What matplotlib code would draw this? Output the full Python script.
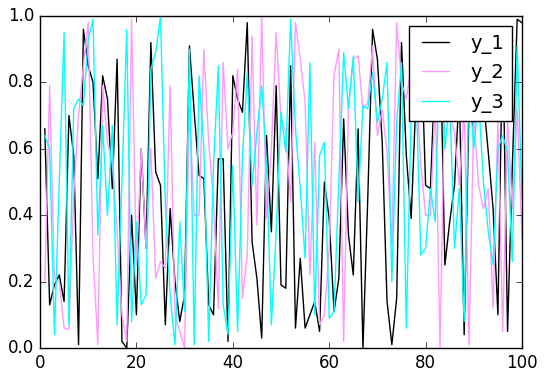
import numpy as np
import matplotlib
matplotlib.use("Agg")
import matplotlib.pyplot as plt

plt.style.use('classic')

x = list(range(1, 101))
y_1 = [0.66, 0.13, 0.19, 0.22, 0.14, 0.70, 0.58, 0.01, 0.96, 0.85,
       0.80, 0.51, 0.82, 0.75, 0.48, 0.87, 0.02, 0.00, 0.40, 0.10,
       0.60, 0.30, 0.92, 0.53, 0.49, 0.07, 0.42, 0.20, 0.08, 0.16,
       0.91, 0.71, 0.52, 0.51, 0.13, 0.10, 0.57, 0.57, 0.02, 0.82,
       0.75, 0.71, 0.98, 0.32, 0.21, 0.03, 0.64, 0.35, 0.79, 0.19,
       0.18, 0.85, 0.06, 0.27, 0.06, 0.10, 0.14, 0.05, 0.50, 0.39,
       0.11, 0.21, 0.69, 0.34, 0.22, 0.66, 0.00, 0.45, 0.96, 0.87,
       0.62, 0.14, 0.01, 0.15, 0.92, 0.58, 0.39, 0.75, 0.95, 0.49,
       0.48, 0.85, 0.95, 0.25, 0.38, 0.49, 0.78, 0.04, 0.72, 0.66,
       0.81, 0.75, 0.59, 0.42, 0.10, 0.95, 0.05, 0.55, 0.99, 0.98]
y_2 = [0.20, 0.79, 0.21, 0.20, 0.06, 0.055, 0.46, 0.70, 0.85, 0.98,
       0.28, 0.01, 0.79, 0.62, 0.56, 0.35, 0.10, 0.02, 0.99, 0.25,
       0.60, 0.30, 0.60, 0.21, 0.26, 0.24, 0.79, 0.10, 0.05, 0.00,
       0.72, 0.40, 0.40, 0.90, 0.62, 0.44, 0.12, 0.86, 0.60, 0.65,
       0.84, 0.15, 0.28, 0.94, 0.37, 1.00, 0.39, 0.60, 0.95, 0.69,
       0.65, 0.44, 0.98, 0.87, 0.74, 0.22, 0.62, 0.07, 0.10, 0.30,
       0.82, 0.90, 0.02, 0.73, 0.87, 0.88, 0.72, 0.74, 0.91, 0.64,
       0.72, 0.59, 0.31, 0.98, 0.80, 0.75, 0.85, 0.80, 0.55, 0.40,
       0.40, 0.75, 0.00, 0.80, 0.70, 0.65, 0.49, 0.73, 0.01, 0.70,
       0.49, 0.42, 0.48, 0.12, 0.69, 0.05, 0.69, 0.42, 0.72, 0.33]
y_3 = [0.64, 0.60, 0.04, 0.50, 0.95, 0.07, 0.72, 0.75, 0.73, 0.93,
       0.99, 0.34, 0.67, 0.40, 0.67, 0.07, 0.50, 0.96, 0.08, 0.38,
       0.13, 0.16, 0.84, 0.89, 1.00, 0.43, 0.16, 0.01, 0.38, 0.11,
       0.90, 0.01, 0.82, 0.60, 0.02, 0.55, 0.85, 0.13, 0.04, 0.55,
       0.05, 0.57, 0.83, 0.49, 0.65, 0.79, 0.56, 0.07, 0.35, 0.71,
       0.59, 0.99, 0.66, 0.48, 0.27, 0.86, 0.10, 0.58, 0.62, 0.09,
       0.11, 0.50, 0.89, 0.72, 0.88, 0.44, 0.73, 0.72, 0.83, 0.68,
       0.75, 0.86, 0.20, 0.68, 0.86, 0.06, 0.70, 0.80, 0.28, 0.30,
       0.48, 0.38, 0.95, 0.60, 0.75, 0.30, 0.48, 0.08, 0.80, 0.60,
       0.75, 0.50, 0.35, 0.25, 0.60, 0.64, 0.59, 0.26, 0.91, 0.45]

fig = plt.figure(figsize=(5.48, 3.78), dpi=100, facecolor='white')
ax = fig.add_axes([40/548, 30/378, 482/548, 332/378])
ax.plot(x, y_1, color='black', lw=1, label='y_1')
ax.plot(x, y_2, color='#ff99ff', lw=1, label='y_2')
ax.plot(x, y_3, color='#00ffff', lw=1, label='y_3')
ax.set_xlim(0, 100)
ax.set_ylim(0, 1)
ax.tick_params(labelsize=12)
ax.legend(loc='upper right', fontsize=14, borderaxespad=0.5)
fig.savefig('out.png', dpi=100, facecolor='white')
